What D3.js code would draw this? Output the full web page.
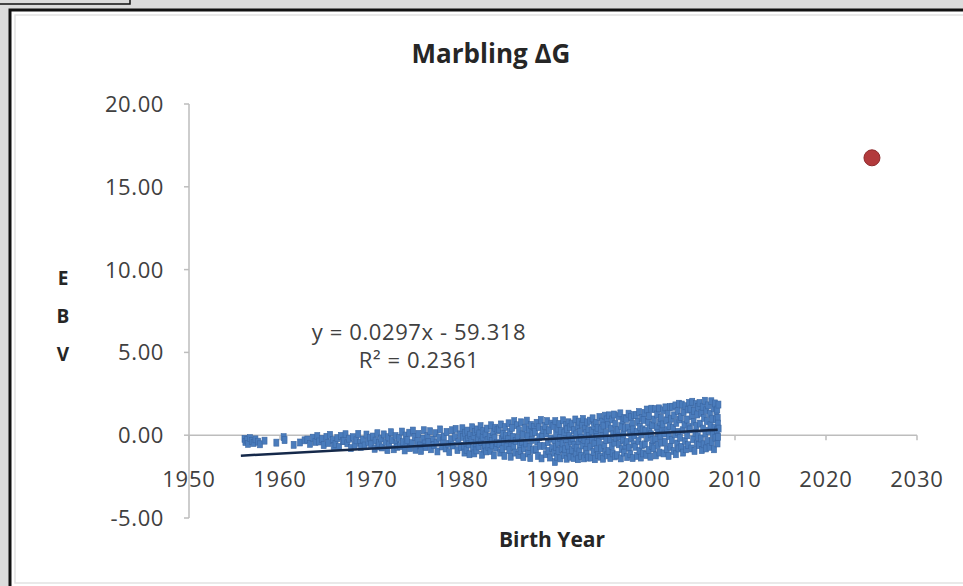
<!DOCTYPE html>
<html>
<head>
<meta charset="utf-8">
<script src="https://cdn.jsdelivr.net/npm/d3@7"></script>
<style>
  html, body { margin: 0; padding: 0; background: #dcdcdc; overflow: hidden; }
  text { font-family: "Open Sans", "Liberation Sans", sans-serif; }
</style>
</head>
<body>
<div id="chart"></div>
<script>

// Data
const chartTitle = "Marbling \u0394G";
const xLabel = "Birth Year";
const yLabelLetters = ["E", "B", "V"];
const xTicks = [1950, 1960, 1970, 1980, 1990, 2000, 2010, 2020, 2030];
const yTicks = [-5, 0, 5, 10, 15, 20];
const trendSlope = 0.0297;
const trendIntercept = -59.318;
const trendR2 = 0.2361;
const trendRange = [1955.7, 2008.1];
const projected = [[2025.05, 16.75]];

const cloud1950s = [
  [1956.1,-0.22],[1956.2,-0.41],[1956.4,-0.30],[1956.5,-0.52],[1956.7,-0.18],[1956.9,-0.36],
  [1957.1,-0.47],[1957.3,-0.25],[1957.6,-0.39],[1957.8,-0.55],[1958.3,-0.33],[1959.6,-0.45]
];
const cloud1960s = [
  [1960.4,-0.12],[1960.5,-0.30],[1961.5,-0.58],[1962.2,-0.44],[1962.7,-0.31],
  [1963.0,-0.26],[1963.3,-0.52],[1963.6,-0.15],[1963.9,-0.40],
  [1964.1,-0.05],[1964.3,-0.38],[1964.6,-0.22],[1964.8,-0.60],
  [1965.1,-0.10],[1965.3,-0.47],[1965.5,0.02],[1965.8,-0.29],[1965.9,-0.66],
  [1966.1,-0.52],[1966.3,-0.18],[1966.5,-0.71],[1966.7,-0.04],[1966.9,-0.36],
  [1967.0,-0.33],[1967.2,0.06],[1967.4,-0.49],[1967.6,-0.21],[1967.8,-0.78],
  [1968.0,-0.12],[1968.2,-0.58],[1968.4,-0.31],[1968.6,0.08],[1968.8,-0.45],[1968.9,-0.70],
  [1969.1,-0.26],[1969.3,-0.62],[1969.5,0.04],[1969.7,-0.40],[1969.9,-0.15]
];
const cloud1970s = [
  [1970.0,-0.55],[1970.2,-0.08],[1970.4,-0.82],[1970.5,-0.33],[1970.7,0.12],[1970.8,-0.68],[1970.9,-0.47],
  [1971.1,-0.20],[1971.2,-0.74],[1971.4,0.05],[1971.6,-0.41],[1971.8,-0.90],[1971.9,-0.12],
  [1972.0,-0.58],[1972.2,0.18],[1972.3,-0.30],[1972.5,-0.85],[1972.7,-0.05],[1972.8,-0.52],[1972.9,-0.70],
  [1973.1,-0.16],[1973.2,-0.66],[1973.4,0.22],[1973.5,-0.42],[1973.7,-0.92],[1973.8,-0.02],[1973.9,-0.55],
  [1974.0,-0.30],[1974.2,0.15],[1974.3,-0.78],[1974.5,-0.48],[1974.6,0.28],[1974.8,-0.10],[1974.9,-0.88],
  [1975.1,-0.36],[1975.2,0.08],[1975.4,-0.62],[1975.5,-0.95],[1975.7,-0.20],[1975.8,0.30],[1975.9,-0.50],
  [1976.0,-0.72],[1976.2,-0.05],[1976.3,-0.40],[1976.5,0.24],[1976.6,-0.85],[1976.8,-0.26],[1976.9,-0.60],
  [1977.1,0.12],[1977.2,-0.45],[1977.3,-0.98],[1977.5,-0.15],[1977.6,0.35],[1977.8,-0.68],[1977.9,-0.32],
  [1978.0,-0.08],[1978.2,-0.80],[1978.3,0.20],[1978.5,-0.52],[1978.6,-1.02],[1978.8,-0.25],[1978.9,0.30],
  [1979.0,-0.62],[1979.2,-0.12],[1979.3,0.38],[1979.5,-0.90],[1979.6,-0.40],[1979.8,0.05],[1979.9,-0.72]
];
const cloud1980s = [
  [1980.04,0.42],[1980.12,-0.10],[1980.2,-0.65],[1980.27,-1.05],[1980.35,0.15],[1980.43,-0.38],[1980.5,-0.88],[1980.58,0.28],[1980.66,-0.22],[1980.74,-0.55],[1980.82,-1.15],[1980.9,0.02],
  [1981.04,-0.30],[1981.12,0.48],[1981.2,-0.78],[1981.27,-0.05],[1981.35,-1.10],[1981.43,0.20],[1981.5,-0.50],[1981.58,-0.92],[1981.66,0.35],[1981.74,-0.18],[1981.82,-0.68],[1981.9,0.10],
  [1982.04,0.55],[1982.12,-0.42],[1982.2,-1.18],[1982.27,-0.12],[1982.35,0.25],[1982.43,-0.80],[1982.5,-0.60],[1982.58,0.05],[1982.66,-0.98],[1982.74,0.40],[1982.82,-0.28],[1982.9,-0.70],
  [1983.04,-0.08],[1983.12,-0.95],[1983.2,0.60],[1983.27,-0.35],[1983.35,-0.62],[1983.43,0.18],[1983.5,-1.22],[1983.58,-0.15],[1983.66,0.45],[1983.74,-0.75],[1983.82,-0.48],[1983.9,0.30],
  [1984.04,0.35],[1984.12,-0.55],[1984.2,-1.05],[1984.27,0.65],[1984.35,-0.20],[1984.43,-0.85],[1984.5,0.10],[1984.58,-0.40],[1984.66,-1.25],[1984.74,0.50],[1984.82,-0.02],[1984.9,-0.68],
  [1985.04,-0.25],[1985.12,0.72],[1985.2,-0.90],[1985.27,0.20],[1985.35,-1.30],[1985.43,-0.48],[1985.5,0.45],[1985.58,-0.10],[1985.66,-0.70],[1985.74,0.85],[1985.82,-1.05],[1985.9,-0.35],
  [1986.04,0.60],[1986.12,-0.15],[1986.2,-1.20],[1986.27,0.30],[1986.35,-0.62],[1986.43,-0.95],[1986.5,0.78],[1986.58,-0.40],[1986.66,0.05],[1986.74,-1.32],[1986.82,-0.80],[1986.9,0.45],
  [1987.04,-0.50],[1987.12,0.88],[1987.2,-0.05],[1987.27,-1.10],[1987.35,0.35],[1987.43,-0.72],[1987.5,-1.38],[1987.58,0.62],[1987.66,-0.28],[1987.74,0.15],[1987.82,-0.90],[1987.9,0.50],
  [1988.04,0.20],[1988.12,-0.85],[1988.2,0.75],[1988.27,-0.38],[1988.35,-1.25],[1988.43,0.48],[1988.5,-0.12],[1988.58,-0.65],[1988.66,0.92],[1988.74,-1.40],[1988.82,-0.02],[1988.9,0.32],
  [1989.04,-0.65],[1989.12,0.55],[1989.2,-1.15],[1989.27,0.10],[1989.35,0.85],[1989.43,-0.42],[1989.5,-0.95],[1989.58,0.30],[1989.66,-1.35],[1989.74,-0.20],[1989.82,0.70],[1989.9,-0.78]
];
const cloud1990s = [
  [1990.05,0.55],[1990.1,-1.05],[1990.15,-0.30],[1990.2,-1.62],[1990.25,0.85],[1990.3,-0.70],[1990.35,0.10],[1990.45,-1.30],[1990.5,0.40],[1990.55,-0.45],[1990.6,-0.95],[1990.7,0.68],[1990.75,-0.15],[1990.8,-1.40],[1990.85,0.25],[1990.95,-0.82],
  [1991.05,-0.50],[1991.1,0.90],[1991.2,-1.20],[1991.25,0.15],[1991.3,-0.85],[1991.4,0.60],[1991.45,-0.25],[1991.5,-1.42],[1991.55,0.35],[1991.65,-0.65],[1991.7,0.78],[1991.75,-1.05],[1991.8,-0.05],[1991.85,0.48],[1991.9,-1.30],[1991.95,-0.38],
  [1992.05,0.70],[1992.1,-0.90],[1992.15,-0.20],[1992.25,-1.38],[1992.3,0.30],[1992.35,-0.58],[1992.45,0.95],[1992.5,-1.10],[1992.55,0.05],[1992.6,-0.75],[1992.7,0.55],[1992.75,-1.45],[1992.8,-0.35],[1992.85,0.82],[1992.9,-0.98],[1992.95,0.20],
  [1993.05,-0.15],[1993.1,-1.25],[1993.2,0.65],[1993.25,-0.62],[1993.3,0.98],[1993.4,-1.40],[1993.45,-0.30],[1993.5,0.40],[1993.6,-0.88],[1993.65,0.12],[1993.7,-1.15],[1993.75,0.78],[1993.8,-0.48],[1993.85,-1.35],[1993.9,0.30],[1993.95,-0.05],
  [1994.05,0.88],[1994.1,-0.70],[1994.15,-1.35],[1994.25,0.25],[1994.3,-0.25],[1994.35,1.02],[1994.45,-1.00],[1994.5,0.55],[1994.55,-0.50],[1994.6,-1.45],[1994.7,0.10],[1994.75,0.75],[1994.8,-0.85],[1994.85,-0.10],[1994.9,0.45],[1994.95,-1.20],
  [1995.05,-0.40],[1995.1,1.10],[1995.2,-1.30],[1995.25,0.35],[1995.3,-0.80],[1995.4,0.82],[1995.45,-0.05],[1995.5,-1.42],[1995.55,0.58],[1995.65,-0.60],[1995.7,1.18],[1995.75,-1.05],[1995.8,0.15],[1995.85,-0.30],[1995.9,0.95],[1995.95,-1.22],
  [1996.05,0.62],[1996.1,-0.95],[1996.15,1.20],[1996.25,-0.22],[1996.3,-1.38],[1996.35,0.40],[1996.45,-0.65],[1996.5,0.95],[1996.55,-1.10],[1996.6,0.05],[1996.7,1.25],[1996.75,-0.45],[1996.8,-1.28],[1996.85,0.70],[1996.9,-0.15],[1996.95,0.25],
  [1997.05,-1.20],[1997.1,0.30],[1997.2,1.15],[1997.25,-0.55],[1997.3,-0.08],[1997.4,1.32],[1997.45,-1.40],[1997.5,0.55],[1997.55,-0.85],[1997.65,0.90],[1997.7,-0.30],[1997.75,0.10],[1997.8,-1.05],[1997.85,1.05],[1997.9,0.45],[1997.95,-0.62],
  [1998.05,0.98],[1998.1,-0.40],[1998.15,-1.32],[1998.25,0.48],[1998.3,1.30],[1998.35,-0.75],[1998.45,0.15],[1998.5,-1.15],[1998.55,1.10],[1998.6,-0.20],[1998.7,0.70],[1998.75,-1.38],[1998.8,0.35],[1998.85,-0.55],[1998.9,1.22],[1998.95,-0.02],
  [1999.05,-0.70],[1999.1,1.20],[1999.2,0.20],[1999.25,-1.25],[1999.3,0.80],[1999.4,-0.35],[1999.45,1.40],[1999.5,-0.95],[1999.55,0.50],[1999.65,-1.35],[1999.7,0.05],[1999.75,1.05],[1999.8,-0.60],[1999.85,0.35],[1999.9,-1.10],[1999.95,0.92]
];
const cloud2000s = [
  [2000.05,1.35],[2000.1,-0.55],[2000.15,0.25],[2000.25,-1.20],[2000.3,1.55],[2000.35,-0.15],[2000.45,0.80],[2000.5,-0.90],[2000.55,1.15],[2000.6,0.40],[2000.7,-1.30],[2000.75,0.05],[2000.8,1.60],[2000.85,-0.65],[2000.9,0.60],[2000.95,-0.30],
  [2001.05,-0.80],[2001.1,0.95],[2001.2,1.58],[2001.25,-0.25],[2001.3,-1.22],[2001.4,0.50],[2001.45,1.25],[2001.5,-0.60],[2001.55,0.15],[2001.65,1.62],[2001.7,-1.05],[2001.75,0.78],[2001.8,-0.10],[2001.85,1.05],[2001.9,-0.45],[2001.95,0.35],
  [2002.05,0.65],[2002.1,1.50],[2002.15,-1.10],[2002.25,0.10],[2002.3,-0.40],[2002.35,1.68],[2002.45,0.90],[2002.5,-0.85],[2002.55,0.30],[2002.6,1.30],[2002.7,-1.25],[2002.75,-0.05],[2002.8,0.55],[2002.85,1.70],[2002.9,-0.70],[2002.95,1.00],
  [2003.05,-0.30],[2003.1,1.72],[2003.2,0.45],[2003.25,-0.95],[2003.3,1.20],[2003.4,0.05],[2003.45,1.80],[2003.5,-1.15],[2003.55,0.75],[2003.65,-0.50],[2003.7,1.45],[2003.75,0.20],[2003.8,-0.80],[2003.85,1.90],[2003.9,0.95],[2003.95,-0.15],
  [2004.05,1.10],[2004.1,-0.70],[2004.15,1.85],[2004.25,0.30],[2004.3,-1.05],[2004.35,1.40],[2004.45,0.65],[2004.5,-0.35],[2004.55,1.75],[2004.6,-0.85],[2004.7,0.95],[2004.75,0.00],[2004.8,1.55],[2004.85,-0.60],[2004.9,0.50],[2004.95,1.95],
  [2005.05,0.35],[2005.1,1.60],[2005.2,-0.80],[2005.25,1.15],[2005.3,2.02],[2005.4,-0.25],[2005.45,0.80],[2005.5,1.45],[2005.55,-0.95],[2005.65,0.15],[2005.7,1.88],[2005.75,0.55],[2005.8,-0.50],[2005.85,1.25],[2005.9,-0.05],[2005.95,1.70],
  [2006.05,-0.60],[2006.1,1.95],[2006.15,0.70],[2006.25,-0.20],[2006.3,1.35],[2006.35,-0.90],[2006.45,1.72],[2006.5,0.40],[2006.55,-0.55],[2006.6,1.05],[2006.7,2.08],[2006.75,0.10],[2006.8,-0.80],[2006.85,1.50],[2006.9,0.85],[2006.95,-0.35],
  [2007.05,1.80],[2007.1,0.25],[2007.2,-0.70],[2007.25,1.30],[2007.3,0.60],[2007.4,2.05],[2007.45,-0.40],[2007.5,1.00],[2007.55,0.05],[2007.65,1.62],[2007.7,-0.85],[2007.75,0.45],[2007.8,1.92],[2007.85,-0.15],[2007.9,0.95],[2007.95,1.45],
  [2008.02,0.30],[2008.05,1.55],[2008.08,-0.50],[2008.1,1.05],[2008.12,0.70],[2008.15,-0.10],[2008.18,1.85],[2008.2,0.40]
];

// Dimensions
const width = 963;
const height = 586;

const x = d3.scaleLinear().domain([1950, 2030]).range([189, 917]);
const y = d3.scaleLinear().domain([-5, 20]).range([518, 104]);

const svg = d3.select("#chart").append("svg")
  .attr("width", width)
  .attr("height", height);

// Window frame around the chart
svg.append("rect")
  .attr("x", -2).attr("y", -2)
  .attr("width", 132).attr("height", 6)
  .attr("fill", "#dcdcdc")
  .attr("stroke", "#111")
  .attr("stroke-width", 1.5);

svg.append("rect")
  .attr("x", 10).attr("y", 10)
  .attr("width", 980).attr("height", 600)
  .attr("fill", "#fff")
  .attr("stroke", "#111")
  .attr("stroke-width", 3);

svg.append("rect")
  .attr("x", 15).attr("y", 15)
  .attr("width", 960).attr("height", 568)
  .attr("fill", "none")
  .attr("stroke", "#e2e2e2")
  .attr("stroke-width", 1.5);

// Axes
const axisColor = "#bdbdbd";

svg.append("line")
  .attr("x1", x(1950)).attr("x2", x(1950))
  .attr("y1", y(20)).attr("y2", y(-5))
  .attr("stroke", axisColor).attr("stroke-width", 1.5);

svg.append("g")
  .selectAll("line")
  .data(yTicks)
  .join("line")
  .attr("x1", x(1950) - 5).attr("x2", x(1950))
  .attr("y1", d => y(d)).attr("y2", d => y(d))
  .attr("stroke", axisColor).attr("stroke-width", 1.5);

svg.append("line")
  .attr("x1", x(1950)).attr("x2", x(2030))
  .attr("y1", y(0)).attr("y2", y(0))
  .attr("stroke", axisColor).attr("stroke-width", 1.5);

svg.append("g")
  .selectAll("line")
  .data(xTicks)
  .join("line")
  .attr("x1", d => x(d)).attr("x2", d => x(d))
  .attr("y1", y(0)).attr("y2", y(0) + 5)
  .attr("stroke", axisColor).attr("stroke-width", 1.5);

// Tick labels (plain hyphen for negatives, as in the original)
const fmt = d => d3.format(".2f")(d).replace("\u2212", "-");

svg.append("g")
  .attr("font-size", 22)
  .attr("letter-spacing", 0.6)
  .attr("fill", "#404040")
  .attr("text-anchor", "end")
  .selectAll("text")
  .data(yTicks)
  .join("text")
  .attr("x", 164)
  .attr("y", d => y(d))
  .attr("dy", "0.36em")
  .text(fmt);

svg.append("g")
  .attr("font-size", 22)
  .attr("letter-spacing", 0.8)
  .attr("fill", "#404040")
  .attr("text-anchor", "middle")
  .selectAll("text")
  .data(xTicks)
  .join("text")
  .attr("x", d => x(d))
  .attr("y", 487)
  .text(d => d);

// Scatter cloud
const points = [].concat(cloud1950s, cloud1960s, cloud1970s, cloud1980s, cloud1990s, cloud2000s);

svg.append("g")
  .attr("fill", "#4a7cbc")
  .attr("stroke", "#3b67a3")
  .attr("stroke-width", 0.6)
  .selectAll("rect")
  .data(points)
  .join("rect")
  .attr("x", d => x(d[0]) - 2.5)
  .attr("y", d => y(d[1]) - 3.5)
  .attr("width", 5)
  .attr("height", 7);

// Linear trend line
svg.append("line")
  .attr("x1", x(trendRange[0]))
  .attr("y1", y(trendSlope * trendRange[0] + trendIntercept))
  .attr("x2", x(trendRange[1]))
  .attr("y2", y(trendSlope * trendRange[1] + trendIntercept))
  .attr("stroke", "#15294a")
  .attr("stroke-width", 2.5);

// Projected point
svg.append("g")
  .selectAll("circle")
  .data(projected)
  .join("circle")
  .attr("cx", d => x(d[0]))
  .attr("cy", d => y(d[1]))
  .attr("r", 8)
  .attr("fill", "#b23a3c")
  .attr("stroke", "#8e2a2c")
  .attr("stroke-width", 1);

// Trend equation
const eq = svg.append("g")
  .attr("font-size", 22)
  .attr("letter-spacing", 0.6)
  .attr("fill", "#404040")
  .attr("text-anchor", "middle");

eq.append("text")
  .attr("x", 419).attr("y", 340)
  .text(`y = ${trendSlope}x - ${Math.abs(trendIntercept)}`);

eq.append("text")
  .attr("x", 419).attr("y", 368)
  .text(`R\u00B2 = ${trendR2}`);

// Titles
svg.append("text")
  .attr("x", 491).attr("y", 63)
  .attr("text-anchor", "middle")
  .attr("font-size", 26)
  .attr("font-weight", "bold")
  .attr("fill", "#262626")
  .text(chartTitle);

svg.append("text")
  .attr("x", 552).attr("y", 547)
  .attr("text-anchor", "middle")
  .attr("font-size", 21)
  .attr("font-weight", "bold")
  .attr("fill", "#262626")
  .text(xLabel);

svg.append("g")
  .attr("font-size", 19)
  .attr("font-weight", "bold")
  .attr("fill", "#262626")
  .attr("text-anchor", "middle")
  .selectAll("text")
  .data(yLabelLetters)
  .join("text")
  .attr("x", 63)
  .attr("y", (d, i) => 285 + i * 38)
  .text(d => d);

</script>
</body>
</html>
